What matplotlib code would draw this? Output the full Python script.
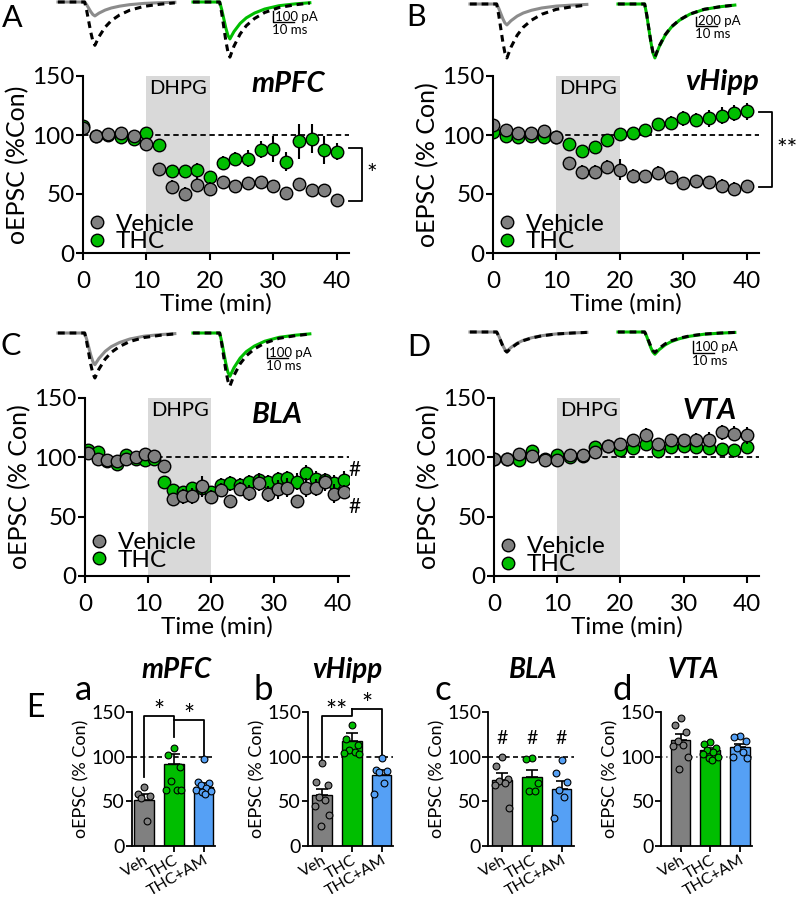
import numpy as np
import matplotlib
matplotlib.use("Agg")
import matplotlib.pyplot as plt

plt.rcParams['font.family'] = ['Lato', 'DejaVu Sans']

# ---------------- data ----------------
time_2min = [0, 2, 4, 6, 8, 10, 12, 14, 16, 18, 20, 22, 24, 26, 28, 30, 32, 34, 36, 38, 40]
time_bla = [0.5, 2, 3.5, 5, 6.5, 8, 9.5, 11, 12.5, 14, 15.5, 17, 18.5, 20, 21.5, 23, 24.5,
            26, 27.5, 29, 30.5, 32, 33.5, 35, 36.5, 38, 39.5, 41]

mpfc_veh = [106, 99.5, 101, 101.5, 99.5, 92.5, 71, 56, 50, 58, 54.5, 60.5, 57, 59, 60.5, 57, 51, 58.5, 53, 53, 45]
mpfc_veh_err = [3, 2, 2, 2, 3, 3, 5, 6, 6, 6, 6, 5, 5, 5, 4, 4, 3, 4, 3, 3, 2]
mpfc_thc = [108, 99.5, 100, 98, 97, 101.5, 91.5, 69.5, 69.5, 70.5, 64.5, 76.5, 79.5, 80, 87.5, 88, 77.5, 94.5, 97, 87.5, 86]
mpfc_thc_err = [3, 2, 2, 2, 3, 3, 4, 5, 5, 6, 5, 6, 6, 7, 7, 11, 8, 15, 12, 12, 7]

vhipp_veh = [108.5, 104, 102, 101.5, 103, 98, 76, 68.5, 68.5, 73, 70.5, 65.5, 65.5, 68, 64.5, 59, 61, 60, 57, 54, 57]
vhipp_veh_err = [3, 2, 2, 2, 2, 2, 3, 6, 6, 6, 9, 6, 4, 6, 5, 4, 4, 4, 6, 6, 3]
vhipp_thc = [102.5, 99.5, 98, 99, 98.5, 98, 92.5, 86.5, 90, 96, 100.5, 102, 104, 109.5, 110, 114, 113, 114, 116.5, 118.5, 120]
vhipp_thc_err = [2, 2, 2, 2, 2, 2, 3, 3, 3, 4, 4, 3, 4, 4, 6, 6, 6, 7, 7, 7, 7]

bla_veh = [104, 98.5, 97.5, 96.5, 99, 100, 103, 101, 92.5, 64.5, 67, 67.5, 75.5, 66.5, 72.5, 63.5, 73, 70,
           78.5, 69, 73, 74.5, 63.5, 74.5, 74.5, 79, 69.5, 70.5]
bla_veh_err = [3, 2, 2, 3, 3, 3, 3, 3, 4, 5, 6, 7, 9, 6, 6, 4, 6, 7, 7, 7, 8, 8, 3, 8, 7, 7, 8, 6]
bla_thc = [106, 104.5, 97, 94.5, 102, 99, 97.5, 99, 79.5, 72.5, 71, 74.5, 74, 71, 76.5, 78, 76.5, 79.5,
           81, 79.5, 81.5, 82.5, 79.5, 86.5, 81.5, 81, 78, 80.5]
bla_thc_err = [3, 3, 3, 3, 3, 3, 3, 3, 5, 5, 5, 5, 6, 5, 6, 6, 6, 6, 6, 6, 6, 6, 7, 7, 7, 6, 7, 8]

vta_veh = [99, 98.5, 103, 101, 97.5, 97.5, 102, 102, 104.5, 109.5, 111.5, 114.5, 118.5, 111.5, 114.5, 114.5, 114.5, 115, 121, 120, 118.5]
vta_veh_err = [2, 2, 3, 3, 3, 3, 3, 3, 3, 3, 4, 4, 6, 4, 5, 5, 6, 6, 6, 6, 7]
vta_thc = [99, 98.5, 97.5, 105, 99, 102, 100, 101, 109, 109.5, 106, 107.5, 111, 105.5, 109, 109.5, 109, 108, 107, 106, 109]
vta_thc_err = [2, 2, 2, 3, 2, 2, 2, 2, 3, 3, 3, 3, 4, 4, 4, 4, 4, 4, 4, 4, 5]

# example oEPSC traces: shape (fraction of peak) vs time (ms), peaks in pA
trace_t = [0, 13, 14, 15, 16, 17, 18, 20, 23, 26, 30, 35, 42, 50, 57]
trace_shape = [0, 0, -0.2, -0.45, -0.7, -0.9, -1.0, -0.8, -0.58, -0.43, -0.3, -0.19, -0.1, -0.05, -0.02]
# [left colored, left dashed, right colored, right dashed]
peaks_mpfc = [130, 405, 345, 515]
peaks_vhipp = [450, 1160, 1160, 1140]
peaks_bla = [317, 450, 433, 530]
peaks_vta = [165, 172, 190, 175]

groups = ['Veh', 'THC', 'THC+AM']
bar_mpfc = [52, 92, 66]
sem_mpfc = [6, 11, 5]
bar_vhipp = [57, 118, 80]
sem_vhipp = [7, 9, 5]
bar_bla = [74, 77, 64]
sem_bla = [8, 8, 9]
bar_vta = [119, 107, 111]
sem_vta = [6, 3, 3]

pts_mpfc = [[66, 58, 56, 54, 28],
            [110, 102, 88, 73, 63, 63, 63],
            [97, 72, 70, 68, 65, 63, 62, 60, 58]]
pts_vhipp = [[93, 72, 68, 55, 52, 45, 35, 22],
             [136, 120, 113, 108, 105, 104, 103],
             [99, 85, 84, 83, 70, 58]]
pts_bla = [[100, 90, 75, 73, 70, 68, 43],
           [98, 97, 70, 62, 62],
           [96, 82, 72, 63, 55, 31]]
pts_vta = [[143, 135, 128, 117, 113, 112, 100, 86],
           [116, 114, 110, 107, 105, 103, 100, 98, 96],
           [123, 122, 118, 110, 105, 100, 98]]

GRAY = '#808080'
GREEN = '#00BE00'
BLUE = '#55A0F5'
TRACE_GRAY = '#8C8C8C'
bar_colors = [GRAY, GREEN, BLUE]

W, H = 800, 898
fig = plt.figure(figsize=(W / 100, H / 100), dpi=100)


def px_axes(left, top, right, bottom):
    return fig.add_axes([left / W, 1 - bottom / H, (right - left) / W, (bottom - top) / H])


def ftext(x, y, s, **kw):
    fig.text(x / W, 1 - y / H, s, **kw)


# ---------------- time course panels ----------------
def time_panel(box, t, veh, veh_err, thc, thc_err, region, reg_pos, ylab, right_min, leg_y):
    ax = px_axes(*box)
    ax.axvspan(10, 20, color='#d9d9d9', lw=0, zorder=0)
    ax.axhline(100, color='black', ls=(0, (3, 2)), lw=1.3, zorder=1)
    ax.errorbar(t, thc, yerr=thc_err, fmt='none', ecolor='black', elinewidth=1.5, zorder=2)
    ht, = ax.plot(t, thc, 'o', ms=9, mfc=GREEN, mec='black', mew=1, zorder=3, label='THC')
    ax.errorbar(t, veh, yerr=veh_err, fmt='none', ecolor='black', elinewidth=1.5, zorder=4)
    hv, = ax.plot(t, veh, 'o', ms=9, mfc=GRAY, mec='black', mew=1, zorder=5, label='Vehicle')
    ax.set_xlim(0, right_min)
    ax.set_ylim(0, 150)
    ax.set_xticks([0, 10, 20, 30, 40])
    ax.set_yticks([0, 50, 100, 150])
    for s in ['top', 'right']:
        ax.spines[s].set_visible(False)
    for s in ['left', 'bottom']:
        ax.spines[s].set_linewidth(1.5)
    ax.tick_params(width=1.5, length=5, labelsize=17.5)
    ax.tick_params(axis='y', pad=1)
    ax.tick_params(axis='x', pad=8)
    ax.set_xlabel('Time (min)', fontsize=17.5, labelpad=1)
    ax.set_ylabel(ylab, fontsize=18, labelpad=2)
    ax.text(15, 147, 'DHPG', ha='center', va='top', fontsize=14.5)
    ax.text(reg_pos[0], reg_pos[1], region, transform=ax.transAxes, ha='center', va='top',
            fontsize=21, fontweight='bold', fontstyle='italic')
    ax.legend(handles=[hv, ht], loc='lower left', bbox_to_anchor=(0.017, leg_y),
              frameon=False, fontsize=17.5, handlelength=0.8, handletextpad=0.35,
              labelspacing=-0.14, borderpad=0, borderaxespad=0)
    for sp in ax.spines.values():
        sp.set_zorder(6)
    return ax


axA = time_panel((83, 76, 349, 253), time_2min, mpfc_veh, mpfc_veh_err, mpfc_thc, mpfc_thc_err,
                 'mPFC', (0.77, 1.03), 'oEPSC (%Con)', 41.9, 0.005)
axB = time_panel((493, 76, 759, 253), time_2min, vhipp_veh, vhipp_veh_err, vhipp_thc, vhipp_thc_err,
                 'vHipp', (0.86, 1.04), 'oEPSC (% Con)', 41.9, 0.005)
axC = time_panel((85, 398, 349, 576), time_bla, bla_veh, bla_veh_err, bla_thc, bla_thc_err,
                 'BLA', (0.73, 0.98), 'oEPSC (% Con)', 41.8, 0.03)
axD = time_panel((494, 398, 759, 576), time_2min, vta_veh, vta_veh_err, vta_thc, vta_thc_err,
                 'VTA', (0.815, 1.0), 'oEPSC (% Con)', 41.9, 0.005)


# significance brackets to the right of the time courses
def side_bracket(ax, top, bottom, label):
    ax.plot([41.9, 43.9, 43.9, 41.9], [top, top, bottom, bottom], color='black', lw=1.3, clip_on=False)
    ax.text(44.6, (top + bottom) / 2, label, ha='left', va='center', fontsize=18, clip_on=False)


side_bracket(axA, 89, 44, '*')
side_bracket(axB, 119.5, 56, '**')
axC.text(41.7, 89, '#', fontsize=15, ha='left', va='center')
axC.text(41.7, 58, '#', fontsize=15, ha='left', va='center')


# ---------------- example traces ----------------
def trace_panel(box, x0, base, pa_px, peaks, color, right_start, sb_x, sb_bottom, sb_pa):
    ms_px = 2.05
    l, t, r, b = box
    ax = px_axes(*box)
    ax.set_xlim((l - x0) / ms_px, (r - x0) / ms_px)
    ax.set_ylim((base - b) / pa_px, (base - t) / pa_px)
    ax.axis('off')
    tt = np.array(trace_t, dtype=float)
    sh = np.array(trace_shape)
    off = (right_start - x0) / ms_px
    ax.plot(tt, sh * peaks[0], color=TRACE_GRAY, lw=2.2)
    ax.plot(tt, sh * peaks[1], color='black', lw=2.2, ls=(0, (2.2, 1.6)))
    ax.plot(tt + off, sh * peaks[2], color=color, lw=2.2)
    ax.plot(tt + off, sh * peaks[3], color='black', lw=2.2, ls=(0, (2.2, 1.6)))
    xs = (sb_x - x0) / ms_px
    yb = (base - sb_bottom) / pa_px
    ax.plot([xs, xs, xs + 10], [yb + sb_pa, yb, yb], color='black', lw=1)
    ax.text(xs + 0.8, yb + sb_pa * 0.5, '%d pA' % sb_pa, fontsize=9.5, va='center', ha='left')
    ax.text(xs - 0.3, yb - 1.5 / pa_px, '10 ms', fontsize=9.5, va='top', ha='left')


trace_panel((50, 0, 340, 65), 58, 2, 0.107, peaks_mpfc, GREEN, 193, 273, 22, 100)
trace_panel((460, 0, 750, 65), 470, 4, 0.0465, peaks_vhipp, GREEN, 618, 696, 26, 200)
trace_panel((50, 322, 340, 400), 58, 333, 0.10, peaks_bla, GREEN, 193, 267, 358, 100)
trace_panel((460, 322, 750, 400), 470, 332, 0.117, peaks_vta, GREEN, 618, 693, 353, 100)

ftext(12, 18, 'A', fontsize=22, va='center', ha='center')
ftext(416, 17, 'B', fontsize=22, va='center', ha='center')
ftext(11, 346, 'C', fontsize=22, va='center', ha='center')
ftext(419, 347, 'D', fontsize=22, va='center', ha='center')

# ---------------- bar panels ----------------
jitter = [0, -0.2, 0.2, -0.1, 0.1, -0.25, 0.25, -0.05, 0.05]
step = 29.75


def bar_panel(cx0, xl, xr, means, sems, pts, title, title_x, letter, letter_x, refstyle):
    ax = px_axes(cx0 + xl * step, 712, cx0 + xr * step, 846)
    x = np.arange(len(groups))
    ax.bar(x, means, width=0.67, color=bar_colors, edgecolor='black', lw=1, zorder=2)
    ax.errorbar(x, means, yerr=[np.zeros(3), sems], fmt='none', ecolor='black',
                elinewidth=1.2, capsize=4, capthick=1.2, zorder=3)
    for i, vals in enumerate(pts):
        xs = [i + jitter[k % len(jitter)] for k in range(len(vals))]
        ax.scatter(xs, vals, s=24, color=bar_colors[i], edgecolor='black', lw=0.8, zorder=4, clip_on=False)
    if refstyle == 'dash':
        ax.axhline(100, color='black', ls=(0, (3, 2)), lw=1.2, zorder=1)
    else:
        ax.axhline(100, color='#707070', ls=(0, (1, 2)), lw=1.2, zorder=1)
    ax.set_xlim(xl, xr)
    ax.set_ylim(0, 150)
    ax.set_yticks([0, 50, 100, 150])
    ax.set_xticks(x)
    ax.set_xticklabels(groups, rotation=30, ha='right', rotation_mode='anchor', fontsize=11.5)
    for s in ['top', 'right']:
        ax.spines[s].set_visible(False)
    for s in ['left', 'bottom']:
        ax.spines[s].set_linewidth(1.3)
    ax.tick_params(axis='y', width=1.3, length=4, labelsize=14, pad=1)
    ax.tick_params(axis='x', width=1.3, length=4, pad=1)
    ax.set_ylabel('oEPSC (% Con)', fontsize=13, labelpad=1)
    ftext(title_x, 670, title, fontsize=20, fontweight='bold', fontstyle='italic', ha='center', va='center')
    ftext(letter_x, 690, letter, fontsize=25, ha='center', va='center')
    return ax


axa = bar_panel(144, -0.4, 2.4, bar_mpfc, sem_mpfc, pts_mpfc, 'mPFC', 177, 'a', 83, 'dash')
axb = bar_panel(322, -0.47, 2.4, bar_vhipp, sem_vhipp, pts_vhipp, 'vHipp', 347, 'b', 263, 'dash')
axc = bar_panel(502, -0.47, 2.43, bar_bla, sem_bla, pts_bla, 'BLA', 533, 'c', 443, 'dash')
axd = bar_panel(680.5, -0.65, 2.4, bar_vta, sem_vta, pts_vta, 'VTA', 693, 'd', 622, 'dot')

ftext(35, 708, 'E', fontsize=23, ha='center', va='center')

# significance brackets on bars
kw = dict(color='black', lw=1.3, clip_on=False)
axa.plot([0, 0, 1, 1], [77, 146, 146, 122], **kw)
axa.plot([1, 2, 2], [140.5, 140.5, 98], **kw)
axa.text(0.5, 150, '*', ha='center', va='center', fontsize=19, clip_on=False)
axa.text(1.5, 145, '*', ha='center', va='center', fontsize=19, clip_on=False)
axb.plot([0, 0, 1, 1], [96, 145, 145, 153], **kw)
axb.plot([1, 2, 2], [153, 153, 100], **kw)
axb.text(0.5, 150, '**', ha='center', va='center', fontsize=19, clip_on=False)
axb.text(1.5, 157, '*', ha='center', va='center', fontsize=19, clip_on=False)
for i in range(3):
    axc.text(i, 120, '#', ha='center', va='center', fontsize=14)

fig.savefig('out.png', dpi=100)
